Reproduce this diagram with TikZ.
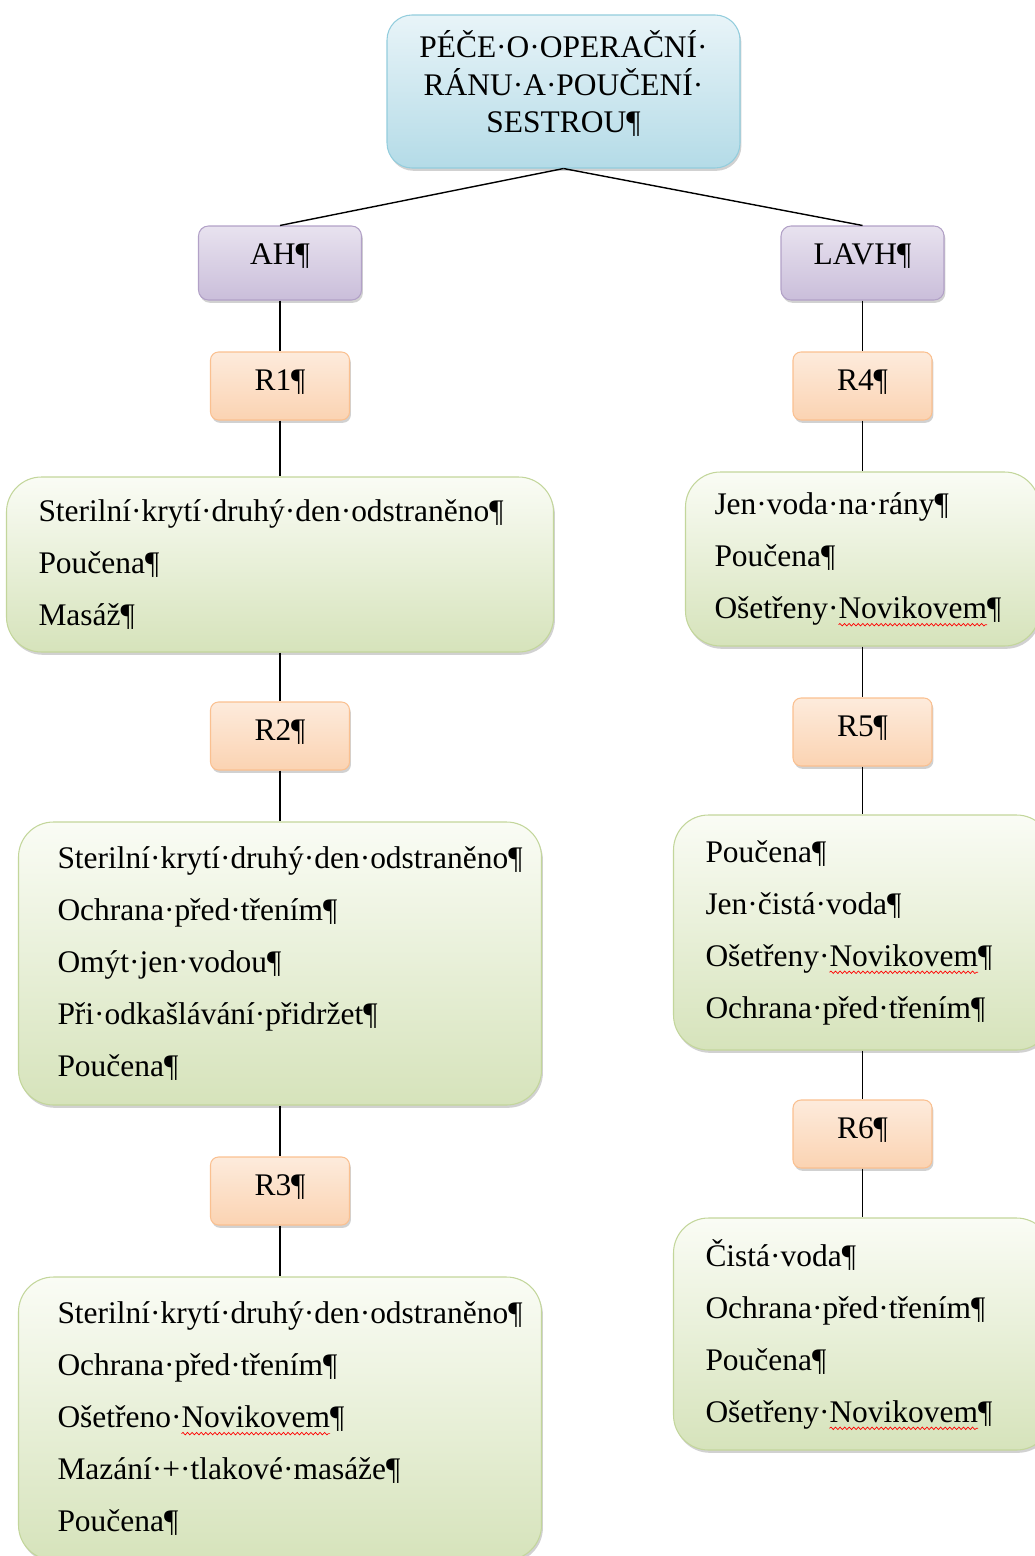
\documentclass[tikz,border=0pt]{standalone}
\usepackage{fontspec}
\setmainfont{Liberation Serif}
\usepackage{xcolor}
\usepackage{tikz}
\usetikzlibrary{shadows,positioning,decorations.pathmorphing}
\definecolor{titletop}{HTML}{E8F4F8}
\definecolor{titlebot}{HTML}{B4DBE7}
\definecolor{titleline}{HTML}{93CDDD}
\definecolor{typetop}{HTML}{E8E2EF}
\definecolor{typebot}{HTML}{CABEDA}
\definecolor{typeline}{HTML}{B2A1C7}
\definecolor{daytop}{HTML}{FDEBDC}
\definecolor{daybot}{HTML}{FBD3B2}
\definecolor{dayline}{HTML}{FAC090}
\definecolor{notetop}{HTML}{FAFCF5}
\definecolor{notebot}{HTML}{D6E3BB}
\definecolor{noteline}{HTML}{C3D69B}
% red wavy underline of the spell checker
\newlength\wavelen
\newcommand\spellwave[1]{\settowidth\wavelen{#1}\rlap{\tikz[baseline=0pt, sharp corners]{\useasboundingbox (0,0) rectangle (\wavelen,0);
  \draw[red, line width=0.4pt, sharp corners, decorate, decoration={snake, amplitude=0.7pt, segment length=2.6pt}] (0,-3.5pt) -- (\wavelen,-3.5pt);}}#1}

\begin{document}
\begin{tikzpicture}[
    box/.style={rectangle, line width=0.6pt,
      drop shadow={shadow xshift=0.8pt, shadow yshift=-1.6pt, opacity=0.3, fill=black!60}},
    titlebox/.style={box, rounded corners=0.5cm, draw=titleline, top color=titletop, bottom color=titlebot,
      minimum width=7.06cm, minimum height=3.06cm, align=center, text depth=0.4cm,
      font=\fontsize{17.9}{21.6}\selectfont},
    typebox/.style={box, rounded corners=0.2cm, draw=typeline, top color=typetop, bottom color=typebot,
      minimum width=3.26cm, minimum height=1.48cm, text depth=0.37cm, font=\fontsize{17.9}{21.6}\selectfont},
    daybox/.style={box, rounded corners=0.16cm, draw=dayline, top color=daytop, bottom color=daybot,
      minimum width=2.78cm, minimum height=1.36cm, text depth=0.25cm, font=\fontsize{17.9}{21.6}\selectfont},
    notebox/.style={box, rounded corners=0.7cm, draw=noteline, top color=notetop, bottom color=notebot,
      inner xsep=0.64cm, align=left, font=\fontsize{17.9}{29.6}\selectfont},
    link/.style={line width=0.8pt, black}
  ]
  \useasboundingbox (0,0) rectangle (20.7,-31.12);
  \clip (0,0) rectangle (20.7,-31.12);
  % Title
  \node[titlebox] (title) at (11.27,-1.83) {PÉČE·O·OPERAČNÍ·\\RÁNU·A·POUČENÍ·\\SESTROU¶};
  % Two types of surgery
  \node[typebox] (ah) at (5.6,-5.26) {AH¶};
  \node[typebox] (lavh) at (17.25,-5.26) {LAVH¶};
  % Left branch
  \node[daybox] (r1) at (5.6,-7.72) {R1¶};
  \node[notebox, text width=9.66cm, minimum height=3.5cm] (care1) at (5.6,-11.29)
    {Sterilní·krytí·druhý·den·odstraněno¶\\Poučena¶\\Masáž¶};
  \node[daybox] (r2) at (5.6,-14.72) {R2¶};
  \node[notebox, inner xsep=0.78cm, text width=8.9cm, minimum height=5.66cm] (care2) at (5.6,-19.27)
    {Sterilní·krytí·druhý·den·odstraněno¶\\Ochrana·před·třením¶\\Omýt·jen·vodou¶\\Při·odkašlávání·přidržet¶\\Poučena¶};
  \node[daybox] (r3) at (5.6,-23.82) {R3¶};
  \node[notebox, inner xsep=0.78cm, text width=8.9cm, minimum height=5.66cm] (care3) at (5.6,-28.37)
    {Sterilní·krytí·druhý·den·odstraněno¶\\Ochrana·před·třením¶\\Ošetřeno·\spellwave{Novikovem}¶\\Mazání·+·tlakové·masáže¶\\Poučena¶};
  % Right branch
  \node[daybox] (r4) at (17.25,-7.72) {R4¶};
  \node[notebox, inner xsep=0.58cm, text width=5.92cm, minimum height=3.48cm] (care4) at (17.25,-11.18)
    {Jen·voda·na·rány¶\\Poučena¶\\Ošetřeny·\spellwave{Novikovem}¶};
  \node[daybox] (r5) at (17.25,-14.64) {R5¶};
  \node[notebox, text width=6.28cm, minimum height=4.7cm] (care5) at (17.25,-18.65)
    {Poučena¶\\Jen·čistá·voda¶\\Ošetřeny·\spellwave{Novikovem}¶\\Ochrana·před·třením¶};
  \node[daybox] (r6) at (17.25,-22.68) {R6¶};
  \node[notebox, text width=6.28cm, minimum height=4.64cm] (care6) at (17.25,-26.68)
    {Čistá·voda¶\\Ochrana·před·třením¶\\Poučena¶\\Ošetřeny·\spellwave{Novikovem}¶};
  % Connectors
  \draw[link] (title.south) -- (ah.north);
  \draw[link] (title.south) -- (lavh.north);
  \draw[link] (ah) -- (r1);
  \draw[link] (r1) -- (care1);
  \draw[link] (care1) -- (r2);
  \draw[link] (r2) -- (care2);
  \draw[link] (care2) -- (r3);
  \draw[link] (r3) -- (care3);
  \draw[link] (lavh) -- (r4);
  \draw[link] (r4) -- (care4);
  \draw[link] (care4) -- (r5);
  \draw[link] (r5) -- (care5);
  \draw[link] (care5) -- (r6);
  \draw[link] (r6) -- (care6);
\end{tikzpicture}
\end{document}
